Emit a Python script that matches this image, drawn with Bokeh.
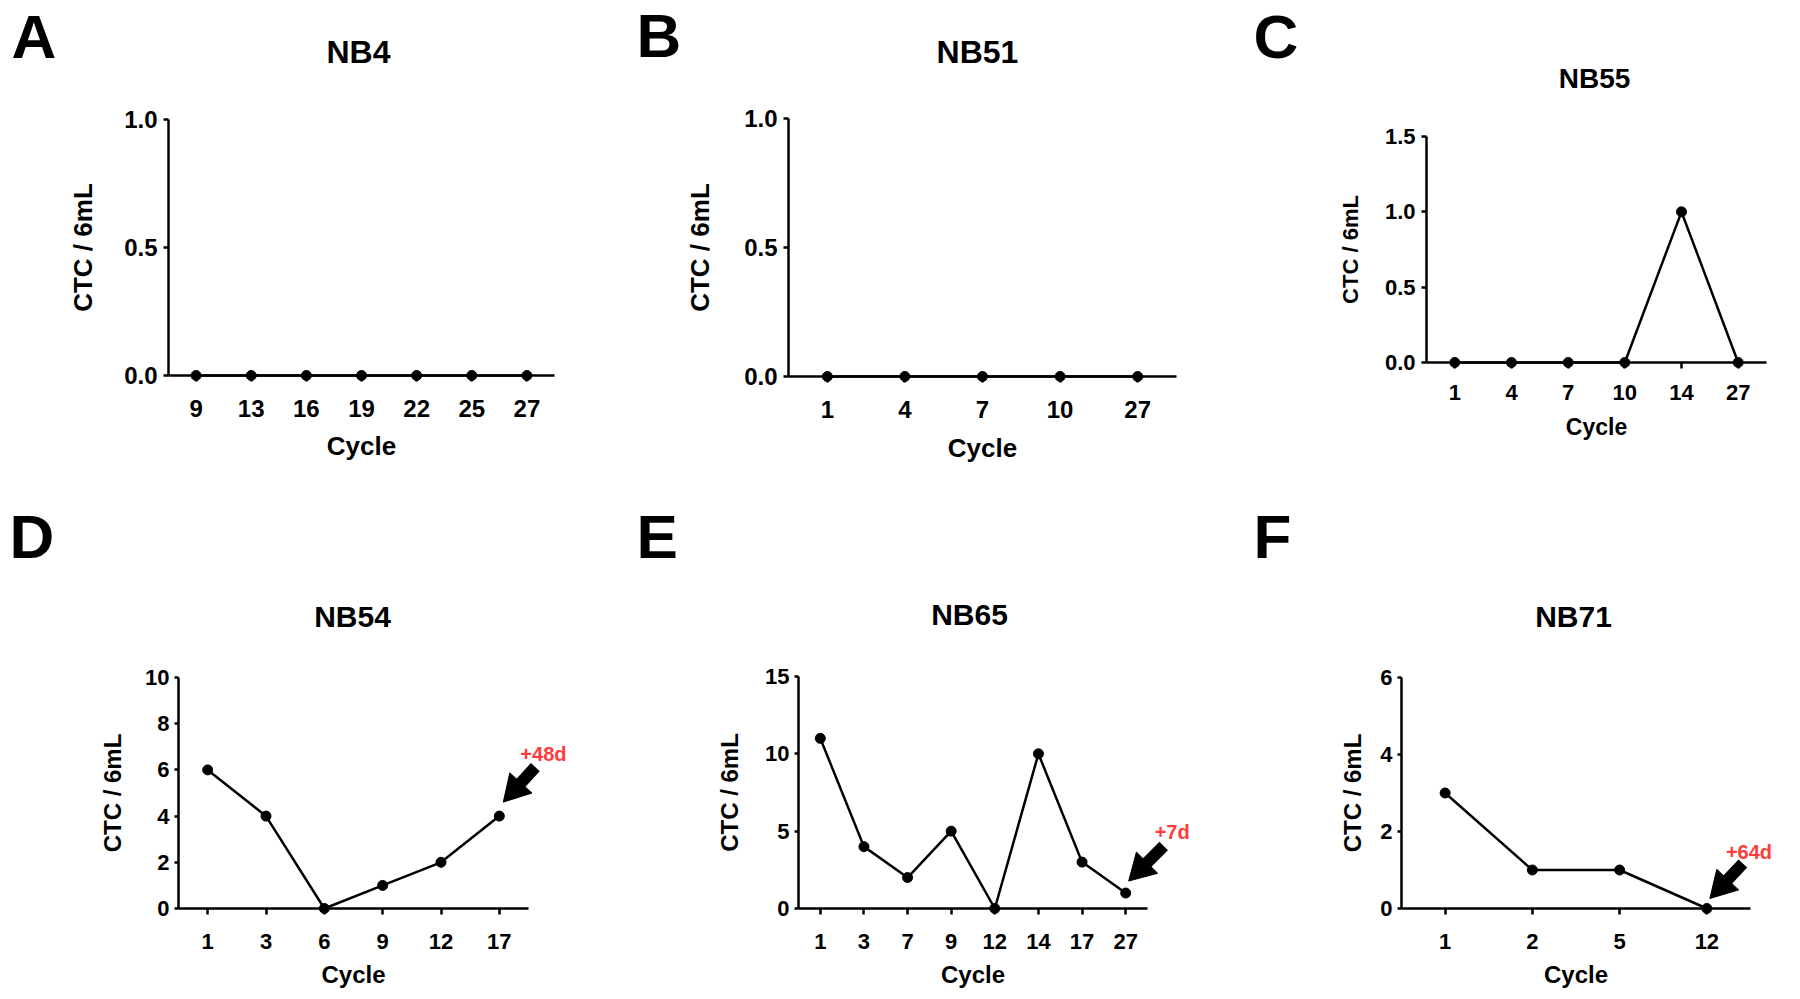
import math
from bokeh.plotting import figure
from bokeh.layouts import row, column
from bokeh.models import FactorRange, Range1d, FixedTicker, PrintfTickFormatter
from bokeh.core.properties import value
from bokeh.embed import file_html
from bokeh.resources import INLINE

# ---------------- data ----------------
nb4_cycles = ["9", "13", "16", "19", "22", "25", "27"]
nb4_ctc = [0, 0, 0, 0, 0, 0, 0]
nb4_yticks = [0, 0.5, 1.0]

nb51_cycles = ["1", "4", "7", "10", "27"]
nb51_ctc = [0, 0, 0, 0, 0]
nb51_yticks = [0, 0.5, 1.0]

nb55_cycles = ["1", "4", "7", "10", "14", "27"]
nb55_ctc = [0, 0, 0, 0, 1, 0]
nb55_yticks = [0, 0.5, 1.0, 1.5]

nb54_cycles = ["1", "3", "6", "9", "12", "17"]
nb54_ctc = [6, 4, 0, 1, 2, 4]
nb54_yticks = [0, 2, 4, 6, 8, 10]

nb65_cycles = ["1", "3", "7", "9", "12", "14", "17", "27"]
nb65_ctc = [11, 4, 2, 5, 0, 10, 3, 1]
nb65_yticks = [0, 5, 10, 15]

nb71_cycles = ["1", "2", "5", "12"]
nb71_ctc = [3, 1, 1, 0]
nb71_yticks = [0, 2, 4, 6]

notes = {"NB54": "+48d", "NB65": "+7d", "NB71": "+64d"}

FONT = "Liberation Sans"
RED = "#FF3B3B"
HEAD = 30   # arrow head size in px
SHAFT = 12  # arrow shaft width in px


def panel(cycles, ctc, yticks, yfmt, name, letter, fig_box, geom,
          title_pos, letter_pos, fs, std, note=None):
    fx, fy, fw, fh = fig_box          # figure box on the page
    fl, fr, ft, fb = geom             # frame box on the page
    ymax = yticks[-1]
    n = len(cycles)
    cat_px = (fr - fl) / n
    unit_px = (fb - ft) / ymax

    p = figure(width=fw, height=fh,
               x_range=FactorRange(factors=cycles),
               y_range=Range1d(0, ymax),
               output_backend="svg", toolbar_location=None,
               min_border_left=fl - fx, min_border_right=fx + fw - fr,
               min_border_top=ft - fy, min_border_bottom=fy + fh - fb)
    p.xgrid.visible = False
    p.ygrid.visible = False
    p.outline_line_color = None
    p.background_fill_color = "white"
    p.border_fill_color = "white"

    for ax in (p.xaxis[0], p.yaxis[0]):
        ax.axis_line_width = 2.5
        ax.axis_line_color = "black"
        ax.major_tick_line_width = 2.5
        ax.major_tick_line_color = "black"
        ax.major_tick_in = 0
        ax.minor_tick_in = 0
        ax.minor_tick_out = 0
        ax.major_label_text_font = FONT
        ax.major_label_text_font_style = "bold"
        ax.major_label_text_color = "black"
        ax.axis_label_text_font = FONT
        ax.axis_label_text_font_style = "bold"
        ax.axis_label_text_color = "black"

    xa = p.xaxis[0]
    xa.axis_label = "Cycle"
    xa.major_tick_out = 6
    xa.major_label_text_font_size = f"{fs['xtick']}px"
    xa.axis_label_text_font_size = f"{fs['xlabel']}px"
    xa.major_label_standoff = std['xtick']
    xa.axis_label_standoff = std['xlabel']

    ya = p.yaxis[0]
    ya.axis_label = "CTC / 6mL"
    ya.ticker = FixedTicker(ticks=yticks, minor_ticks=[])
    ya.formatter = PrintfTickFormatter(format=yfmt)
    ya.major_tick_out = std['ytick_out']
    ya.major_label_text_font_size = f"{fs['ytick']}px"
    ya.axis_label_text_font_size = f"{fs['ylabel']}px"
    ya.major_label_standoff = std['ytick']
    ya.axis_label_standoff = std['ylabel']

    r1 = p.line(cycles, ctc, line_width=2.5, line_color="black")
    r2 = p.scatter(cycles, ctc, size=10, fill_color="black", line_color="black")
    r1.level = "overlay"
    r2.level = "overlay"

    def to_data(px, py):
        return (px - fl) / cat_px, (fb - py) / unit_px

    def add_text(px, py, txt, size, align, color):
        x, y = to_data(px, py)
        r = p.text(x=[x], y=[y], text=[txt], text_font=value(FONT),
                   text_font_style="bold", text_font_size=value(f"{size}px"),
                   text_align=align, text_baseline="middle", text_color=color)
        r.level = "overlay"

    add_text(title_pos[0], title_pos[1], name, fs['title'], "center", "black")
    add_text(letter_pos[0], letter_pos[1], letter, 62, "left", "black")

    if note is not None:
        text, txt_off, tip_off, tail_off = note
        last_px = fl + (n - 0.5) * cat_px
        last_py = fb - ctc[-1] * unit_px
        add_text(last_px + txt_off[0], last_py + txt_off[1], text, 20, "left", RED)
        tip = (last_px + tip_off[0], last_py + tip_off[1])
        tail = (last_px + tail_off[0], last_py + tail_off[1])
        dx, dy = tip[0] - tail[0], tip[1] - tail[1]
        d = math.hypot(dx, dy)
        ux, uy = dx / d, dy / d
        back = 0.577 * HEAD
        cen = (tip[0] - back * ux, tip[1] - back * uy)
        ang = math.atan2(-uy, ux) - math.pi / 2
        tx0, ty0 = to_data(*tail)
        cx, cy = to_data(*cen)
        s = p.segment(x0=[tx0], y0=[ty0], x1=[cx], y1=[cy], line_width=SHAFT,
                      line_color="black")
        h = p.scatter(x=[cx], y=[cy], marker="triangle", size=HEAD, angle=ang,
                      fill_color="black", line_color="black")
        s.level = "overlay"
        h.level = "overlay"
    return p


fsAB = dict(ytick=24, xtick=24, ylabel=26, xlabel=26, title=32)
fsC = dict(ytick=22, xtick=22, ylabel=22, xlabel=23, title=28)
fsD = dict(ytick=22, xtick=22, ylabel=24, xlabel=24, title=30)

pA = panel(nb4_cycles, nb4_ctc, nb4_yticks, "%.1f", "NB4", "A",
           (0, 0, 600, 490), (168, 554, 119, 375), (358, 51.7), (11, 35.8), fsAB,
           dict(xtick=18, xlabel=11, ytick=6, ytick_out=5, ylabel=23))
pB = panel(nb51_cycles, nb51_ctc, nb51_yticks, "%.1f", "NB51", "B",
           (600, 0, 605, 490), (788, 1176, 118, 376), (977, 51.7), (636, 35), fsAB,
           dict(xtick=18, xlabel=12, ytick=6, ytick_out=5, ylabel=26))
pC = panel(nb55_cycles, nb55_ctc, nb55_yticks, "%.1f", "NB55", "C",
           (1205, 0, 591, 490), (1426, 1766, 136, 362), (1594, 78.3), (1253, 36), fsC,
           dict(xtick=16, xlabel=11, ytick=6, ytick_out=5, ylabel=19))
pD = panel(nb54_cycles, nb54_ctc, nb54_yticks, "%d", "NB54", "D",
           (0, 490, 600, 507), (178, 528, 677, 908), (352, 615.8), (9, 535.5), fsD,
           dict(xtick=19, xlabel=9, ytick=5, ytick_out=4, ylabel=16),
           note=(notes["NB54"], (21, -62), (4, -14), (36, -49)))
pE = panel(nb65_cycles, nb65_ctc, nb65_yticks, "%d", "NB65", "E",
           (600, 490, 605, 507), (798, 1147, 676, 908), (969, 614), (636, 535.5), fsD,
           dict(xtick=19, xlabel=9, ytick=5, ytick_out=4, ylabel=19),
           note=(notes["NB65"], (29, -61), (3, -12), (38, -47)))
pF = panel(nb71_cycles, nb71_ctc, nb71_yticks, "%d", "NB71", "F",
           (1205, 490, 591, 507), (1401, 1750, 677, 908), (1573, 615.5), (1253, 535.5), fsD,
           dict(xtick=19, xlabel=9, ytick=5, ytick_out=4, ylabel=11),
           note=(notes["NB71"], (19, -56.5), (3, -10), (36, -45)))

layout = column(row(column(pA), column(pB), column(pC)),
                row(column(pD), column(pE), column(pF)))
open("out.html", "w").write(file_html(layout, INLINE))
